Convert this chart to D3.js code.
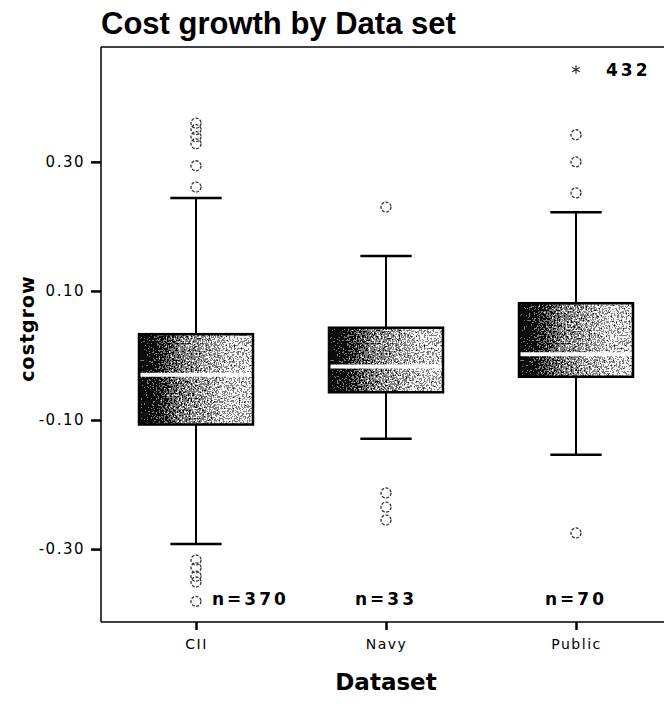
<!DOCTYPE html>
<html>
<head>
<meta charset="utf-8">
<script src="https://cdn.jsdelivr.net/npm/d3@7"></script>
<style>
  html, body { margin: 0; padding: 0; background: #fff; }
  svg { display: block; }
  .tick text { font-family: "DejaVu Sans", sans-serif; }
</style>
</head>
<body>
<div id="chart"></div>
<script>
const WIDTH = 664;
const HEIGHT = 706;

// values
const categories = ["CII", "Navy", "Public"];
const counts = [370, 33, 70];
const q1 = [-0.107, -0.057, -0.033];
const medians = [-0.030, -0.017, 0.002];
const q3 = [0.033, 0.043, 0.081];
const whiskerLow = [-0.292, -0.129, -0.154];
const whiskerHigh = [0.244, 0.154, 0.222];
const outliersCII = [0.360, 0.350, 0.339, 0.328, 0.294, 0.261, -0.317, -0.329, -0.342, -0.351, -0.381];
const outliersNavy = [0.230, -0.213, -0.235, -0.255];
const outliersPublic = [0.342, 0.300, 0.252, -0.275];
const extremeCategories = ["Public"];
const extremeValues = [0.443];
const extremeLabels = ["432"];
const yTicks = [0.30, 0.10, -0.10, -0.30];
const yDomain = [-0.413, 0.478];

const outliers = [outliersCII, outliersNavy, outliersPublic];

const margin = { top: 47, left: 101, bottom: 84 };
const PLOT_RIGHT = 671; // frame runs past the window edge

const fmt = d3.formatLocale({
  decimal: ".", thousands: ",", grouping: [3], currency: ["", ""], minus: "-"
}).format(".2f");

const x = d3.scalePoint()
  .domain(categories)
  .range([margin.left, PLOT_RIGHT])
  .padding(0.5);

const y = d3.scaleLinear()
  .domain(yDomain)
  .range([HEIGHT - margin.bottom, margin.top]);

const step = x.step();
const boxW = step * 0.6;
const capW = step * 0.27;

const svg = d3.select("#chart").append("svg")
  .attr("width", WIDTH)
  .attr("height", HEIGHT);

const defs = svg.append("defs");

const grad = defs.append("linearGradient").attr("id", "boxFill");
[[0, "#000"], [0.12, "#222"], [0.4, "#848484"], [0.75, "#b2b2b2"], [1, "#c2c2c2"]]
  .forEach(([o, c]) => grad.append("stop").attr("offset", o).attr("stop-color", c));

// scanned halftone look
const filt = defs.append("filter")
  .attr("id", "grain")
  .attr("x", 0).attr("y", 0).attr("width", 1).attr("height", 1)
  .attr("color-interpolation-filters", "sRGB");
filt.append("feTurbulence")
  .attr("type", "fractalNoise").attr("baseFrequency", 0.6)
  .attr("numOctaves", 2).attr("seed", 4).attr("result", "noise");
filt.append("feColorMatrix")
  .attr("in", "noise").attr("type", "matrix")
  .attr("values", "1 0 0 0 0  1 0 0 0 0  1 0 0 0 0  0 0 0 0 1")
  .attr("result", "gray");
filt.append("feComposite")
  .attr("in", "SourceGraphic").attr("in2", "gray")
  .attr("operator", "arithmetic")
  .attr("k1", 0).attr("k2", 1).attr("k3", 1.6).attr("k4", -0.8)
  .attr("result", "sum");
const ct = filt.append("feComponentTransfer").attr("in", "sum").attr("result", "dith");
["feFuncR", "feFuncG", "feFuncB"].forEach((f) =>
  ct.append(f).attr("type", "discrete").attr("tableValues", "0.05 0.5 0.95"));
filt.append("feComposite")
  .attr("in", "dith").attr("in2", "SourceGraphic").attr("operator", "in");

// title
svg.append("text")
  .attr("x", 101)
  .attr("y", 34)
  .style("font-family", "Liberation Sans, Arial, sans-serif")
  .style("font-weight", "bold")
  .style("font-size", "31px")
  .text("Cost growth by Data set");

// frame
svg.append("line")
  .attr("x1", margin.left).attr("x2", WIDTH)
  .attr("y1", margin.top).attr("y2", margin.top)
  .attr("stroke", "#000")
  .attr("stroke-width", 1.5);

// y axis
const yAxis = svg.append("g")
  .attr("transform", `translate(${margin.left},0)`)
  .call(d3.axisLeft(y).tickValues(yTicks).tickSize(10).tickPadding(6).tickFormat(fmt));
yAxis.select(".domain").remove();
yAxis.selectAll(".tick line").attr("stroke-width", 2.5);
yAxis.selectAll(".tick text")
  .style("font-size", "15px")
  .style("letter-spacing", "1.5px");
svg.append("line")
  .attr("x1", margin.left).attr("x2", margin.left)
  .attr("y1", margin.top).attr("y2", y(yDomain[0]))
  .attr("stroke", "#000").attr("stroke-width", 1.5);

// x axis
const xAxis = svg.append("g")
  .attr("transform", `translate(0,${y(yDomain[0])})`)
  .call(d3.axisBottom(x).tickSize(8).tickPadding(9));
xAxis.select(".domain").remove();
xAxis.selectAll(".tick line").attr("stroke-width", 2.5);
xAxis.selectAll(".tick text")
  .style("font-size", "14px")
  .style("letter-spacing", "1.5px");
svg.append("line")
  .attr("x1", margin.left).attr("x2", WIDTH)
  .attr("y1", y(yDomain[0])).attr("y2", y(yDomain[0]))
  .attr("stroke", "#000").attr("stroke-width", 1.5);

// axis titles
svg.append("text")
  .attr("transform", `translate(34,${(margin.top + y(yDomain[0])) / 2 - 6}) rotate(-90)`)
  .attr("text-anchor", "middle")
  .style("font-family", "DejaVu Sans, sans-serif")
  .style("font-weight", "bold")
  .style("font-size", "19px")
  .style("letter-spacing", "1px")
  .text("costgrow");

svg.append("text")
  .attr("x", (margin.left + PLOT_RIGHT) / 2)
  .attr("y", 690)
  .attr("text-anchor", "middle")
  .style("font-family", "DejaVu Sans, sans-serif")
  .style("font-weight", "bold")
  .style("font-size", "23px")
  .text("Dataset");

// boxes
const rows = categories.map((c, i) => ({
  cat: c, n: counts[i], q1: q1[i], med: medians[i], q3: q3[i],
  lo: whiskerLow[i], hi: whiskerHigh[i], out: outliers[i]
}));

const plot = svg.append("g").attr("class", "plot-area");

const box = plot.selectAll("g.box")
  .data(rows)
  .join("g")
  .attr("class", "box")
  .attr("transform", (d) => `translate(${x(d.cat)},0)`);

box.append("line")
  .attr("y1", (d) => y(d.hi)).attr("y2", (d) => y(d.q3))
  .attr("stroke", "#000").attr("stroke-width", 2);
box.append("line")
  .attr("y1", (d) => y(d.q1)).attr("y2", (d) => y(d.lo))
  .attr("stroke", "#000").attr("stroke-width", 2);
box.append("line")
  .attr("x1", -capW / 2).attr("x2", capW / 2)
  .attr("y1", (d) => y(d.hi)).attr("y2", (d) => y(d.hi))
  .attr("stroke", "#000").attr("stroke-width", 2.5);
box.append("line")
  .attr("x1", -capW / 2).attr("x2", capW / 2)
  .attr("y1", (d) => y(d.lo)).attr("y2", (d) => y(d.lo))
  .attr("stroke", "#000").attr("stroke-width", 2.5);

box.append("rect")
  .attr("x", -boxW / 2)
  .attr("width", boxW)
  .attr("y", (d) => y(d.q3))
  .attr("height", (d) => y(d.q1) - y(d.q3))
  .attr("fill", "url(#boxFill)")
  .attr("filter", "url(#grain)");
box.append("rect")
  .attr("x", -boxW / 2)
  .attr("width", boxW)
  .attr("y", (d) => y(d.q3))
  .attr("height", (d) => y(d.q1) - y(d.q3))
  .attr("fill", "none")
  .attr("stroke", "#000")
  .attr("stroke-width", 2.5);

box.append("line")
  .attr("x1", -boxW / 2 + 1.5).attr("x2", boxW / 2 - 1.5)
  .attr("y1", (d) => y(d.med)).attr("y2", (d) => y(d.med))
  .attr("stroke", "#fff").attr("stroke-width", 4);

box.selectAll("circle")
  .data((d) => d.out)
  .join("circle")
  .attr("cy", (v) => y(v))
  .attr("r", 5)
  .attr("fill", "none")
  .attr("stroke", "#333")
  .attr("stroke-width", 1.3)
  .attr("stroke-dasharray", "3 1.5");

// n labels, pushed right of any low outliers sitting at the label's height
const labelY = 605;
const crowded = (d) => d3.min(d.out) < y.invert(labelY - 14);
box.append("text")
  .attr("y", labelY)
  .attr("x", (d) => (crowded(d) ? 16 : 0))
  .attr("text-anchor", (d) => (crowded(d) ? "start" : "middle"))
  .style("font-family", "DejaVu Sans, sans-serif")
  .style("font-weight", "bold")
  .style("font-size", "17px")
  .style("letter-spacing", "3px")
  .text((d) => `n=${d.n}`);

// extreme values
const extremes = extremeCategories.map((c, i) => ({ cat: c, v: extremeValues[i], label: extremeLabels[i] }));
const ext = plot.selectAll("g.extreme")
  .data(extremes)
  .join("g")
  .attr("class", "extreme")
  .attr("transform", (d) => `translate(${x(d.cat)},${y(d.v)})`);
ext.append("path")
  .attr("d", d3.symbol(d3.symbolAsterisk, 55))
  .attr("stroke", "#222")
  .attr("stroke-width", 1.1);
ext.append("text")
  .attr("x", 30)
  .attr("y", 6)
  .style("font-family", "DejaVu Sans, sans-serif")
  .style("font-weight", "bold")
  .style("font-size", "17px")
  .style("letter-spacing", "3px")
  .text((d) => d.label);
</script>
</body>
</html>
